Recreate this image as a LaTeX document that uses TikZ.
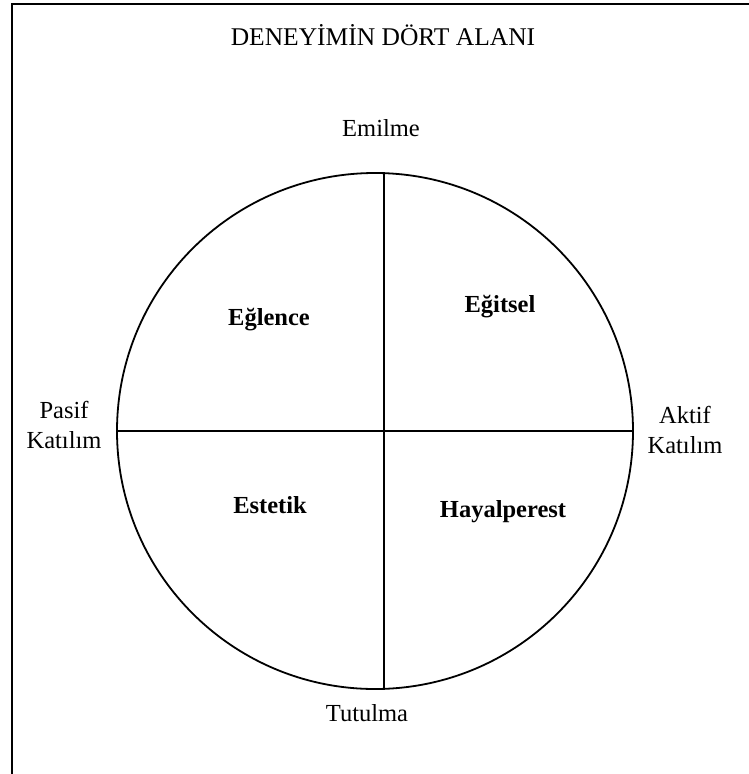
\documentclass[tikz,border=0pt]{standalone}
\usepackage{fontspec}
\setmainfont{Liberation Serif}
\begin{document}
\begin{tikzpicture}[x=1pt,y=-1pt,
  lbl/.style={font=\fontsize{24.5}{30}\selectfont, align=center, inner sep=0pt},
  quad/.style={font=\fontsize{24.5}{30}\selectfont\bfseries, inner sep=0pt}]
\useasboundingbox (0,0) rectangle (749,774);
\clip (0,0) rectangle (749,774);
\draw[line width=2pt] (12,4) rectangle (780,800);
\node[lbl, font=\fontsize{25.5}{30}\selectfont] (title) at (383,35) {DENEYİMİN DÖRT ALANI};
\node[circle, draw, line width=1.8pt, minimum size=516pt, inner sep=0pt] (c) at (375,431) {};
\draw[line width=1.5pt] (c.88.22) -- (c.-88.22);
\draw[line width=1.8pt] (c.west) -- (c.east);
\node[lbl, anchor=base] (em) at (381,136) {Emilme};
\node[lbl, anchor=base] (tu) at (367,721) {Tutulma};
\node[lbl, anchor=base] (pa) at (64,418) {Pasif};
\node[lbl, anchor=base] (pk) at (64,448) {Katılım};
\node[lbl, anchor=base] (ak) at (685,423) {Aktif};
\node[lbl, anchor=base] (akk) at (685,453) {Katılım};
\node[quad] (eg) at (269,320) {Eğlence};
\node[quad] (egi) at (500,307) {Eğitsel};
\node[quad] (es) at (270,505) {Estetik};
\node[quad] (ha) at (503,512) {Hayalperest};
\end{tikzpicture}
\end{document}
